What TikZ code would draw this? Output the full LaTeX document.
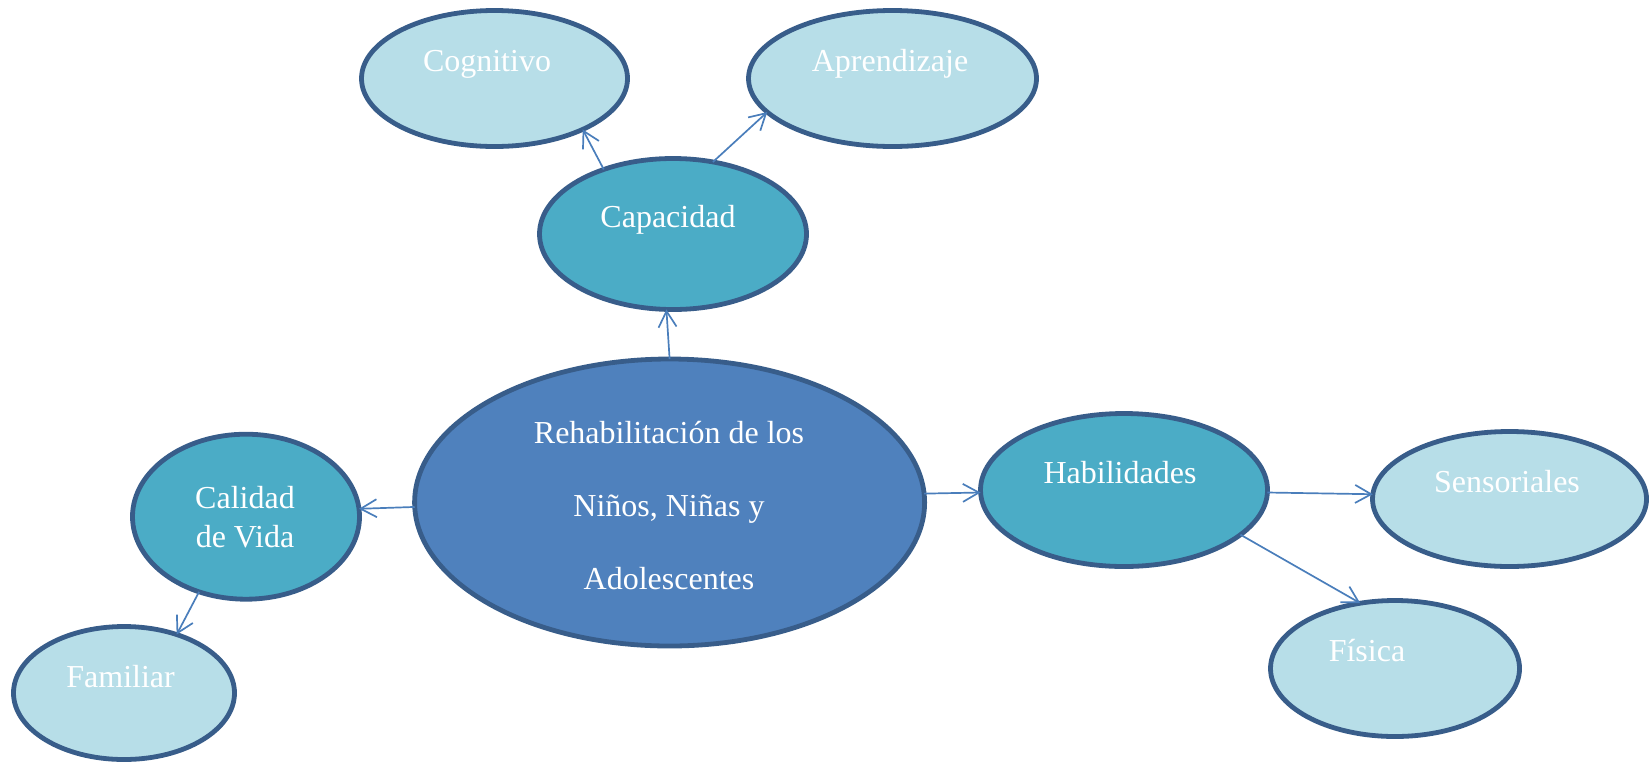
\documentclass[tikz,border=0pt]{standalone}
\usepackage{fontspec}
\setmainfont{Liberation Serif}
\usepackage{xcolor}
\usetikzlibrary{shapes, arrows.meta, positioning}

\definecolor{darkrim}{HTML}{385D8A}
\definecolor{mainblue}{HTML}{4F81BD}
\definecolor{midteal}{HTML}{4BACC6}
\definecolor{paleteal}{HTML}{B7DEE8}
\definecolor{linkblue}{HTML}{4A7EBB}

\tikzset{
  bubble/.style={draw=darkrim, line width=2.4pt, ellipse, inner sep=0pt, outer sep=0pt},
  core/.style={bubble, fill=mainblue},
  branch/.style={bubble, fill=midteal},
  leaf/.style={bubble, fill=paleteal},
  caption/.style={text=white, font=\fontsize{16}{19.5}\selectfont, align=center, anchor=base},
  link/.style={->, draw=linkblue, line width=0.85pt}
}

\begin{document}
\begin{tikzpicture}[x=0.5pt, y=-0.5pt, >={Straight Barb[length=8pt,width=9pt]}]
\useasboundingbox (0,0) rectangle (1652,766);

% Centre
\node[core, minimum width=255pt, minimum height=143.5pt] (rehab) at (669.6,502.5) {};
\node[caption, font=\fontsize{16}{36.5}\selectfont] (rehabtext) at (669,589)
   {Rehabilitación de los\\Niños, Niñas y\\Adolescentes};

% Capacidad branch
\node[branch, minimum width=133.5pt, minimum height=75.5pt] (cap) at (673,234) {};
\node[caption] (captext) at (668,227) {Capacidad};
\node[leaf, minimum width=133pt, minimum height=68pt] (cog) at (494.5,78.5) {};
\node[caption] (cogtext) at (487,71) {Cognitivo};
\node[leaf, minimum width=144pt, minimum height=68pt] (apr) at (892.5,78.5) {};
\node[caption] (aprtext) at (890,71) {Aprendizaje};

% Calidad de Vida branch
\node[branch, minimum width=113.5pt, minimum height=82.5pt] (cal) at (246,516.7) {};
\node[caption] (caltext) at (245,547) {Calidad\\de Vida};
\node[leaf, minimum width=110.5pt, minimum height=66.5pt] (fam) at (124,693) {};
\node[caption] (famtext) at (120.6,687) {Familiar};

% Habilidades branch
\node[branch, minimum width=143.5pt, minimum height=76.5pt] (hab) at (1124,490) {};
\node[caption] (habtext) at (1120,483) {Habilidades};
\node[leaf, minimum width=137pt, minimum height=67.5pt] (sens) at (1509.5,499) {};
\node[caption] (senstext) at (1507,492) {Sensoriales};
\node[leaf, minimum width=124.5pt, minimum height=68pt] (fis) at (1395,668.5) {};
\node[caption] (fistext) at (1367,661) {Física};

% Connectors
\draw[link] (rehab.90) -- (cap.-95);
\draw[link] (cap.137) -- (cog.-30);
\draw[link] (cap.61) -- (apr.-165);
\draw[link] (rehab.181) -- (cal.4);
\draw[link] (cal.238) -- (fam.48);
\draw[link] (rehab.2) -- (hab.181);
\draw[link] (hab.-1) -- (sens.178);
\draw[link] (hab.-21) -- (fis.118);
\end{tikzpicture}
\end{document}
